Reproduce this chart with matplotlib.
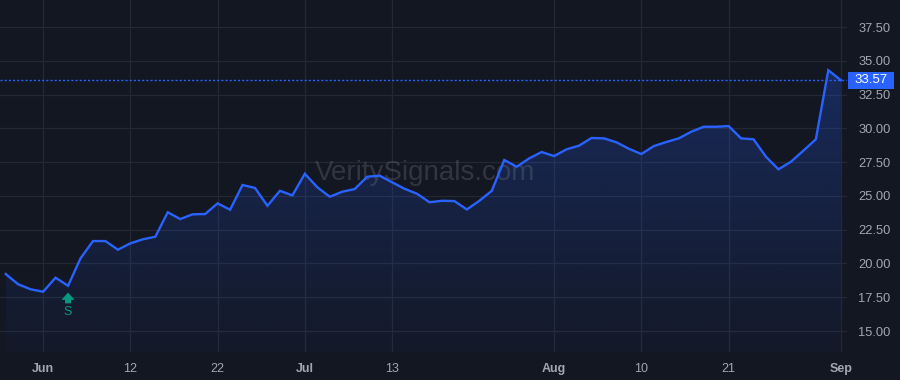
import numpy as np
import matplotlib
matplotlib.use('Agg')
import matplotlib.pyplot as plt
from matplotlib.patches import FancyArrowPatch, Rectangle

# data (one point per bar/session)
values = [19.22, 18.46, 18.09, 17.91, 18.95, 18.35, 20.38, 21.66, 21.66, 21.02,
          21.49, 21.79, 21.98, 23.79, 23.29, 23.64, 23.66, 24.45, 23.98, 25.81,
          25.59, 24.27, 25.38, 25.04, 26.64, 25.64, 24.94, 25.31, 25.51, 26.42,
          26.50, 26.01, 25.53, 25.16, 24.53, 24.64, 24.62, 24.00, 24.64, 25.38,
          27.66, 27.16, 27.78, 28.25, 27.95, 28.45, 28.72, 29.29, 29.26, 28.97,
          28.49, 28.10, 28.69, 28.99, 29.26, 29.75, 30.12, 30.12, 30.17, 29.26,
          29.19, 27.90, 26.97, 27.53, 28.35, 29.19, 34.30, 33.57]
tick_idx = [3, 10, 17, 24, 31, 44, 51, 58, 67]
tick_labels = ['Jun', '12', '22', 'Jul', '13', 'Aug', '10', '21', 'Sep']
month_labels = {'Jun', 'Jul', 'Aug', 'Sep'}
y_ticks = [15.0, 17.5, 20.0, 22.5, 25.0, 27.5, 30.0, 32.5, 35.0, 37.5]
signal_idx = 5
signal_label = 'S'
last_price = values[-1]
watermark = 'VeritySignals.com'

BG = '#131722'
GRID = '#242834'
LINE = '#2962ff'
TXT = '#a3a6af'
GREEN = '#089981'

plt.rcParams['font.family'] = ['Liberation Sans', 'DejaVu Sans']

fig = plt.figure(figsize=(9, 3.8), dpi=100)
fig.patch.set_facecolor(BG)
ax = fig.add_axes([0, 28 / 380, 847 / 900, 352 / 380])
ax.set_facecolor(BG)

x = np.arange(len(values))
y = np.array(values)
ymin, ymax = 13.45, 39.5

# gradient area under the line
poly = ax.fill_between(x, y, ymin, color='none', lw=0)
grad = np.zeros((256, 1, 4))
grad[:, 0, :3] = matplotlib.colors.to_rgb(LINE)
grad[:, 0, 3] = np.linspace(0.03, 0.26, 256)
img = ax.imshow(grad, extent=(x[0], x[-1], ymin, y.max()), origin='lower',
                aspect='auto', zorder=1, interpolation='bilinear')
img.set_clip_path(poly.get_paths()[0], transform=ax.transData)
ax.set_xlim(-0.46, 67.5)
ax.set_ylim(ymin, ymax)

ax.plot(x, y, color=LINE, lw=1.7, zorder=4, solid_joinstyle='miter')

# last price dotted line + label box on the price scale
ax.axhline(last_price, color=LINE, lw=1.0, ls=(0, (1.5, 1.5)), zorder=3)
fig.canvas.draw()
_, py = ax.transData.transform((0, last_price))
box_h = 17
fig.patches.append(Rectangle((848, py - box_h / 2), 46, box_h, transform=None,
                             fc=LINE, ec='none', zorder=10))
fig.text(871 / 900, py / 380, f'{last_price:.2f}', ha='center', va='center',
         fontsize=9.5, color='white', zorder=11)

# signal marker
arr = FancyArrowPatch((signal_idx, y[signal_idx] - 1.3), (signal_idx, y[signal_idx] - 0.5),
                      arrowstyle='simple,head_width=1.0,head_length=0.55,tail_width=0.45',
                      mutation_scale=9.5, color=GREEN, lw=0, zorder=5,
                      shrinkA=0, shrinkB=0)
ax.add_patch(arr)
ax.text(signal_idx, y[signal_idx] - 1.97, signal_label, ha='center', va='center',
        fontsize=9, color=GREEN, zorder=5)

# watermark
ax.text(0.502, 0.508, watermark, transform=ax.transAxes, ha='center', va='center',
        fontsize=20, color='#787b86', alpha=0.3, zorder=3)

# axes styling
ax.set_xticks(tick_idx)
ax.set_xticklabels(tick_labels)
for lbl in ax.get_xticklabels():
    if lbl.get_text() in month_labels:
        lbl.set_fontweight('bold')
ax.set_yticks(y_ticks)
ax.set_yticklabels([f'{v:.2f}' for v in y_ticks])
ax.yaxis.tick_right()
ax.tick_params(axis='y', length=0, pad=8, labelsize=9.3, labelcolor=TXT)
ax.tick_params(axis='x', length=0, pad=8, labelsize=9, labelcolor=TXT)
ax.grid(True, color=GRID, lw=0.9, zorder=0)
ax.set_axisbelow(True)
for s in ax.spines.values():
    s.set_visible(False)

fig.savefig('out.png', dpi=100, facecolor=BG)
